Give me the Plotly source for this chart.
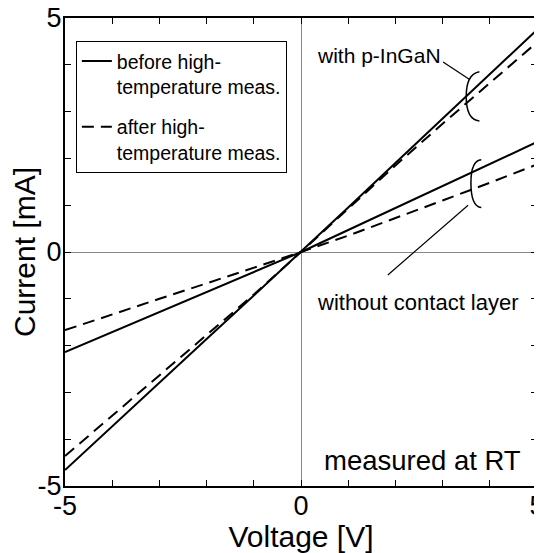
import plotly.graph_objects as go

voltage = [-5, -4, -3, -2, -1, 0, 1, 2, 3, 4, 5]
ingan_before = [-4.66, -3.72, -2.79, -1.86, -0.93, 0.0, 0.95, 1.90, 2.85, 3.80, 4.75]
ingan_after = [-4.36, -3.50, -2.65, -1.79, -0.91, 0.0, 0.93, 1.85, 2.74, 3.62, 4.48]
nocontact_before = [-2.14, -1.71, -1.28, -0.86, -0.43, 0.0, 0.47, 0.94, 1.41, 1.88, 2.35]
nocontact_after = [-1.67, -1.33, -1.00, -0.67, -0.34, 0.0, 0.35, 0.72, 1.10, 1.48, 1.87]

tick_vals = [-5, -4, -3, -2, -1, 0, 1, 2, 3, 4, 5]
tick_text = ["-5", "", "", "", "", "0", "", "", "", "", "5"]

FONT = "Liberation Sans, Arial, sans-serif"
DASH = "12px,7px"

fig = go.Figure()
fig.add_trace(go.Scatter(x=voltage, y=ingan_before, mode="lines",
                         line=dict(color="black", width=2), legendgroup="a",
                         name="before high-<br>temperature meas.", showlegend=True))
fig.add_trace(go.Scatter(x=voltage, y=ingan_after, mode="lines",
                         line=dict(color="black", width=2, dash=DASH), legendgroup="b",
                         name="after high-<br>temperature meas.", showlegend=True))
fig.add_trace(go.Scatter(x=voltage, y=nocontact_before, mode="lines", legendgroup="a",
                         line=dict(color="black", width=2), showlegend=False))
fig.add_trace(go.Scatter(x=voltage, y=nocontact_after, mode="lines", legendgroup="b",
                         line=dict(color="black", width=2, dash=DASH), showlegend=False))

axis_common = dict(
    range=[-5, 5], tickvals=tick_vals, ticktext=tick_text,
    ticks="inside", ticklen=6, tickcolor="black", tickwidth=1,
    showline=True, linecolor="black", linewidth=2, mirror="ticks",
    showgrid=False, zeroline=True, zerolinecolor="#888888", zerolinewidth=1,
    tickfont=dict(size=27, family=FONT, color="black"),
    ticklabeloverflow="allow",
    automargin=False,
)

fig.update_layout(
    width=534, height=545,
    margin=dict(l=57, r=5, t=10, b=67),
    paper_bgcolor="white", plot_bgcolor="white",
    font=dict(family=FONT, color="black"),
    xaxis=dict(axis_common, ticklabelstandoff=-5,
               title=dict(text="Voltage [V]", font=dict(size=30, family=FONT), standoff=0)),
    yaxis=dict(axis_common, ticklabelstandoff=-4,
               title=dict(text="Current [mA]", font=dict(size=30, family=FONT), standoff=0)),
    legend=dict(x=0.023, y=0.951, xanchor="left", yanchor="top",
                bordercolor="black", borderwidth=1, bgcolor="white",
                font=dict(size=19.5, family=FONT), itemwidth=30,
                traceorder="grouped", tracegroupgap=12, valign="top"),
    showlegend=True,
)

# Annotation texts
fig.add_annotation(x=1.65, y=4.2, xref="x", yref="y", text="with p-InGaN",
                   showarrow=False, font=dict(size=21, family=FONT), xanchor="center")
fig.add_annotation(x=2.48, y=-1.07, xref="x", yref="y", text="without contact layer",
                   showarrow=False, font=dict(size=22, family=FONT), xanchor="center")
fig.add_annotation(x=0.97, y=0.055, xref="paper", yref="paper", text="measured at RT",
                   showarrow=False, font=dict(size=27.5, family=FONT), xanchor="right", yanchor="middle")

# Leader lines
fig.add_shape(type="line", xref="x", yref="y", x0=3.01, y0=4.06, x1=3.58, y1=3.68,
              line=dict(color="black", width=1.2))
fig.add_shape(type="line", xref="x", yref="y", x0=3.54, y0=1.0, x1=1.84, y1=-0.49,
              line=dict(color="black", width=1.2))

# Brackets
fig.add_shape(type="path", xref="x", yref="y",
              path="M 3.78,3.85 Q 3.5,3.8 3.5,3.32 Q 3.5,2.82 3.78,2.8",
              line=dict(color="black", width=1.5))
fig.add_shape(type="path", xref="x", yref="y",
              path="M 3.82,1.97 Q 3.6,1.95 3.6,1.48 Q 3.6,0.97 3.82,0.95",
              line=dict(color="black", width=1.5))

fig.write_html("out.html")
